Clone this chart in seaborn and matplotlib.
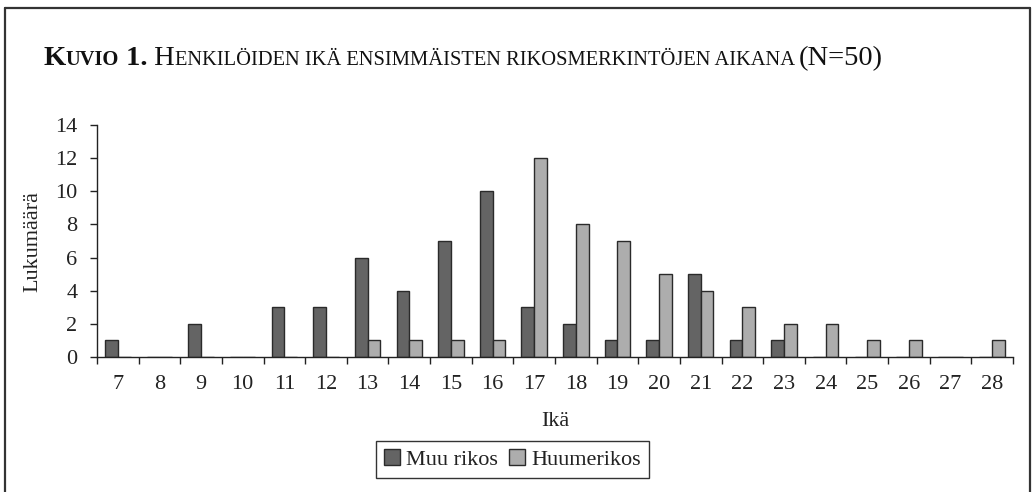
import matplotlib
matplotlib.use("Agg")
import matplotlib.pyplot as plt
from matplotlib.lines import Line2D
from matplotlib.ticker import FixedLocator, NullFormatter
import seaborn as sns
import pandas as pd

ages = [str(a) for a in range(7, 29)]
muu_rikos = [1, 0, 2, 0, 3, 3, 6, 4, 7, 10, 3, 2, 1, 1, 5, 1, 1, 0, 0, 0, 0, 0]
huumerikos = [0, 0, 0, 0, 0, 0, 1, 1, 1, 1, 12, 8, 7, 5, 4, 3, 2, 2, 1, 1, 0, 1]
series_names = ["Muu rikos", "Huumerikos"]
y_ticks = [0, 2, 4, 6, 8, 10, 12, 14]

df = pd.DataFrame({
    "Ikä": ages * 2,
    "Sarja": [series_names[0]] * len(ages) + [series_names[1]] * len(ages),
    "Lukumäärä": muu_rikos + huumerikos,
})

sns.set_theme(style="white")
plt.rcParams["font.family"] = ["Liberation Serif", "DejaVu Serif"]

W, H = 1033, 492
fig = plt.figure(figsize=(W / 100, H / 100), dpi=100)
ax = fig.add_axes([97 / W, 1 - 357 / H, (1013 - 97) / W, (357 - 125) / H])

dark = "#646464"
light = "#adadad"
edge = "#2a2a2a"

sns.barplot(data=df, x="Ikä", y="Lukumäärä", hue="Sarja", order=ages,
            hue_order=series_names, palette=[dark, light], width=0.61,
            edgecolor=edge, linewidth=1.0, saturation=1, ax=ax)

ax.set_ylim(0, 14)
ax.set_xlim(-0.5, len(ages) - 0.5)
ax.set_yticks(y_ticks)
ax.set_yticklabels([str(t) for t in y_ticks])
ax.xaxis.set_minor_locator(FixedLocator([i - 0.5 for i in range(len(ages) + 1)]))
ax.xaxis.set_minor_formatter(NullFormatter())
ax.tick_params(axis="x", which="major", length=0, pad=13, labelsize=16, colors="#222222")
ax.tick_params(axis="x", which="minor", length=5, width=1.0, direction="out",
               bottom=True, color="#222222")
ax.tick_params(axis="y", which="major", length=5, width=1.0, direction="out",
               left=True, pad=9, labelsize=16, colors="#222222")
for s in ["top", "right"]:
    ax.spines[s].set_visible(False)
for s in ["left", "bottom"]:
    ax.spines[s].set_color("#222222")
    ax.spines[s].set_linewidth(1.0)

ax.set_xlabel("Ikä", fontsize=16, color="#222222", labelpad=13)
ax.set_ylabel("Lukumäärä", fontsize=16, color="#222222", labelpad=9)

handles, labels = ax.get_legend_handles_labels()
if ax.get_legend() is not None:
    ax.get_legend().remove()
leg = fig.legend(handles, labels, loc="center", bbox_to_anchor=(512.5 / W, 1 - 459.5 / H),
                 ncol=2, fontsize=16, frameon=True, fancybox=False, shadow=False,
                 edgecolor="#333333", framealpha=1, handlelength=0.7, handleheight=0.7,
                 handletextpad=0.3, columnspacing=0.5, borderpad=0.35, borderaxespad=0)
leg.get_frame().set_linewidth(1.0)
for t in leg.get_texts():
    t.set_color("#222222")

# Figure frame (left, top, right)
lc = "#333333"
fig.add_artist(Line2D([5 / W, 5 / W], [0, 1 - 8 / H], transform=fig.transFigure, color=lc, lw=1.6))
fig.add_artist(Line2D([5 / W, 1030 / W], [1 - 8 / H, 1 - 8 / H], transform=fig.transFigure, color=lc, lw=1.6))
fig.add_artist(Line2D([1030 / W, 1030 / W], [0, 1 - 8 / H], transform=fig.transFigure, color=lc, lw=1.6))

# Title emulating small caps
big = 20.5
small = 14.8
pieces = [
    ("K", big, "bold"),
    ("UVIO", small, "bold"),
    (" 1.", big, "bold"),
    (" H", big, "normal"),
    ("ENKILÖIDEN IKÄ ENSIMMÄISTEN RIKOSMERKINTÖJEN AIKANA ", small, "normal"),
    ("(N=50)", big, "normal"),
]
fig.canvas.draw()
renderer = fig.canvas.get_renderer()
x_px = 43.0
y_base = 1 - 65 / H
for txt, size, weight in pieces:
    t = fig.text(x_px / W, y_base, txt, fontsize=size, fontweight=weight,
                 va="baseline", ha="left", color="#111111")
    bb = t.get_window_extent(renderer=renderer)
    x_px += bb.width

fig.savefig("out.png", dpi=100)
